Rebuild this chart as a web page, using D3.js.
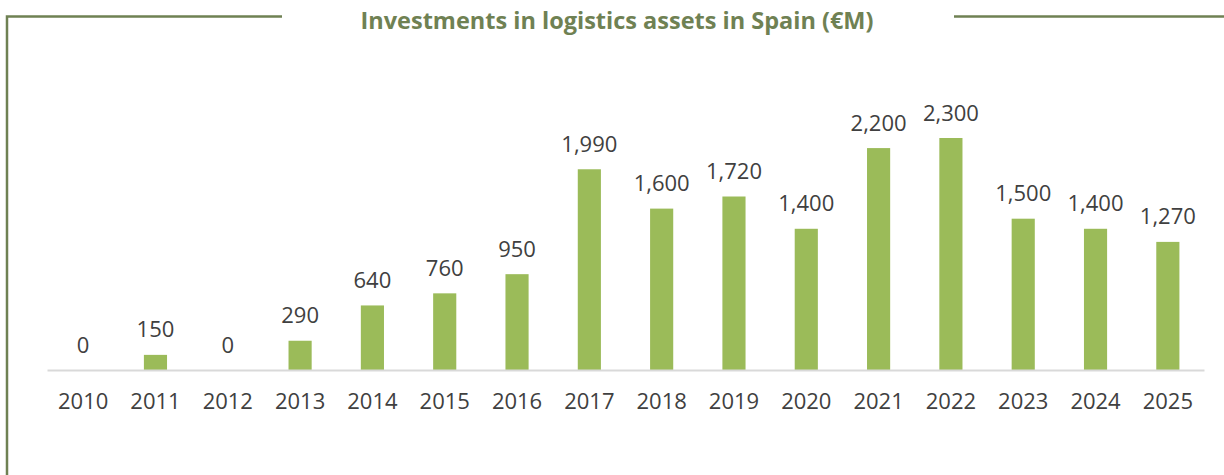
<!DOCTYPE html>
<html lang="en">
<head>
    <meta charset="utf-8" />
    <title>Investments in logistics assets in Spain</title>
    <script src="https://cdn.jsdelivr.net/npm/d3@7/dist/d3.min.js"></script>
    <style>
        html, body { margin: 0; padding: 0; background: #fff; }
        svg { display: block; }
    </style>
</head>
<body>
    <div id="chart"></div>
    <script type="text/javascript">
        var years = ["2010", "2011", "2012", "2013", "2014", "2015", "2016", "2017",
                     "2018", "2019", "2020", "2021", "2022", "2023", "2024", "2025"];
        var investments = [0, 150, 0, 290, 640, 760, 950, 1990,
                           1600, 1720, 1400, 2200, 2300, 1500, 1400, 1270];
        var title = "Investments in logistics assets in Spain (\u20ACM)";

        var width = 1224, height = 475;
        var frameColor = "#6f8153";
        var barColor = "#9bbb59";
        var textColor = "#404040";

        var svg = d3.select("#chart").append("svg")
            .attr("width", width)
            .attr("height", height);

        // frame: top line broken by the title, left side going down
        svg.append("path")
            .attr("d", "M7,475 L7,16.5 L282,16.5")
            .attr("fill", "none")
            .attr("stroke", frameColor)
            .attr("stroke-width", 2.5);
        svg.append("line")
            .attr("x1", 954).attr("x2", width)
            .attr("y1", 16.5).attr("y2", 16.5)
            .attr("stroke", frameColor)
            .attr("stroke-width", 2.5);

        svg.append("text")
            .attr("x", 617)
            .attr("y", 28.5)
            .attr("text-anchor", "middle")
            .attr("font-family", "'Open Sans', sans-serif")
            .attr("font-weight", "bold")
            .attr("font-size", 23.5)
            .attr("fill", frameColor)
            .text(title);

        var x = d3.scaleBand()
            .domain(years)
            .range([47, 1204])
            .paddingInner(0.68)
            .paddingOuter(0.34);

        var y = d3.scaleLinear()
            .domain([0, 2300])
            .range([370, 138]);

        var data = years.map(function (d, i) { return { year: d, value: investments[i] }; });

        svg.selectAll("rect.bar")
            .data(data)
            .enter()
            .append("rect")
            .attr("class", "bar")
            .attr("x", function (d) { return x(d.year); })
            .attr("y", function (d) { return y(d.value); })
            .attr("width", x.bandwidth())
            .attr("height", function (d) { return y(0) - y(d.value); })
            .attr("fill", barColor);

        // baseline axis
        var axis = svg.append("g")
            .attr("transform", "translate(0," + y(0) + ")")
            .call(d3.axisBottom(x).tickSize(0));
        axis.select(".domain")
            .attr("stroke", "#d9d9d9")
            .attr("stroke-width", 2);
        axis.selectAll("text")
            .attr("font-family", "'Open Sans', sans-serif")
            .attr("font-size", 22)
            .attr("fill", textColor)
            .attr("dy", 0)
            .attr("y", 38.5);

        var fmt = d3.format(",");
        svg.selectAll("text.value")
            .data(data)
            .enter()
            .append("text")
            .attr("class", "value")
            .attr("x", function (d) { return x(d.year) + x.bandwidth() / 2; })
            .attr("y", function (d) { return y(d.value) - 17.5; })
            .attr("text-anchor", "middle")
            .attr("font-family", "'Open Sans', sans-serif")
            .attr("font-size", 22)
            .attr("fill", textColor)
            .text(function (d) { return fmt(d.value); });
    </script>
</body>
</html>
